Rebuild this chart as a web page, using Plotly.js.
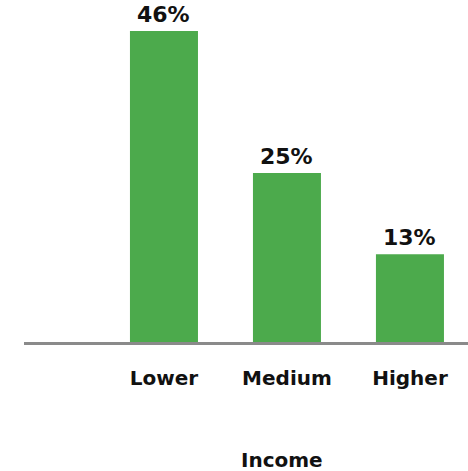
<!DOCTYPE html>
<html><head><meta charset="utf-8">
<script src="https://cdn.plot.ly/plotly-3.0.1.min.js"></script>
<style>html,body{margin:0;padding:0;background:#fff}#c{width:468px;height:471px}</style>
</head><body><div id="c"></div>
<script>
const categories = ["Lower", "Medium", "Higher"];
const values = [46, 25, 13];
const labels = ["46%", "25%", "13%"];
const xTitle = "Income";

const F = "DejaVu Sans, Verdana, sans-serif";
const annotations = categories.map((c, i) => ({
  x: c, y: values[i], xref: "x", yref: "y",
  text: labels[i], showarrow: false,
  yanchor: "bottom", yshift: 3, borderpad: 0,
  font: {family: F, size: 22, color: "#111", weight: "bold"}
}));
annotations.push({
  xref: "paper", yref: "paper", x: 0.5811, y: -0.345,
  xanchor: "center", yanchor: "middle", showarrow: false,
  text: xTitle,
  font: {family: F, size: 20, color: "#111", weight: "bold"}
});

Plotly.newPlot("c", [{
  type: "bar",
  x: categories,
  y: values,
  cliponaxis: false,
  width: 0.553,
  marker: {color: "#4caa4c"},
  hoverinfo: "none"
}], {
  width: 468, height: 471,
  margin: {l: 24, r: 0, t: 0, b: 129},
  paper_bgcolor: "#fff", plot_bgcolor: "#fff",
  showlegend: false,
  annotations: annotations,
  xaxis: {
    type: "category",
    range: [-1.138, 2.472],
    showline: true, linecolor: "#8a8a8a", linewidth: 3,
    showgrid: false, zeroline: false,
    ticks: "outside", ticklen: 16, tickcolor: "rgba(0,0,0,0)",
    tickfont: {family: F, size: 20, color: "#111", weight: "bold"}
  },
  yaxis: {
    range: [0, 50.6],
    visible: false, showgrid: false, zeroline: false
  }
}, {displayModeBar: false, staticPlot: true});
</script></body></html>
